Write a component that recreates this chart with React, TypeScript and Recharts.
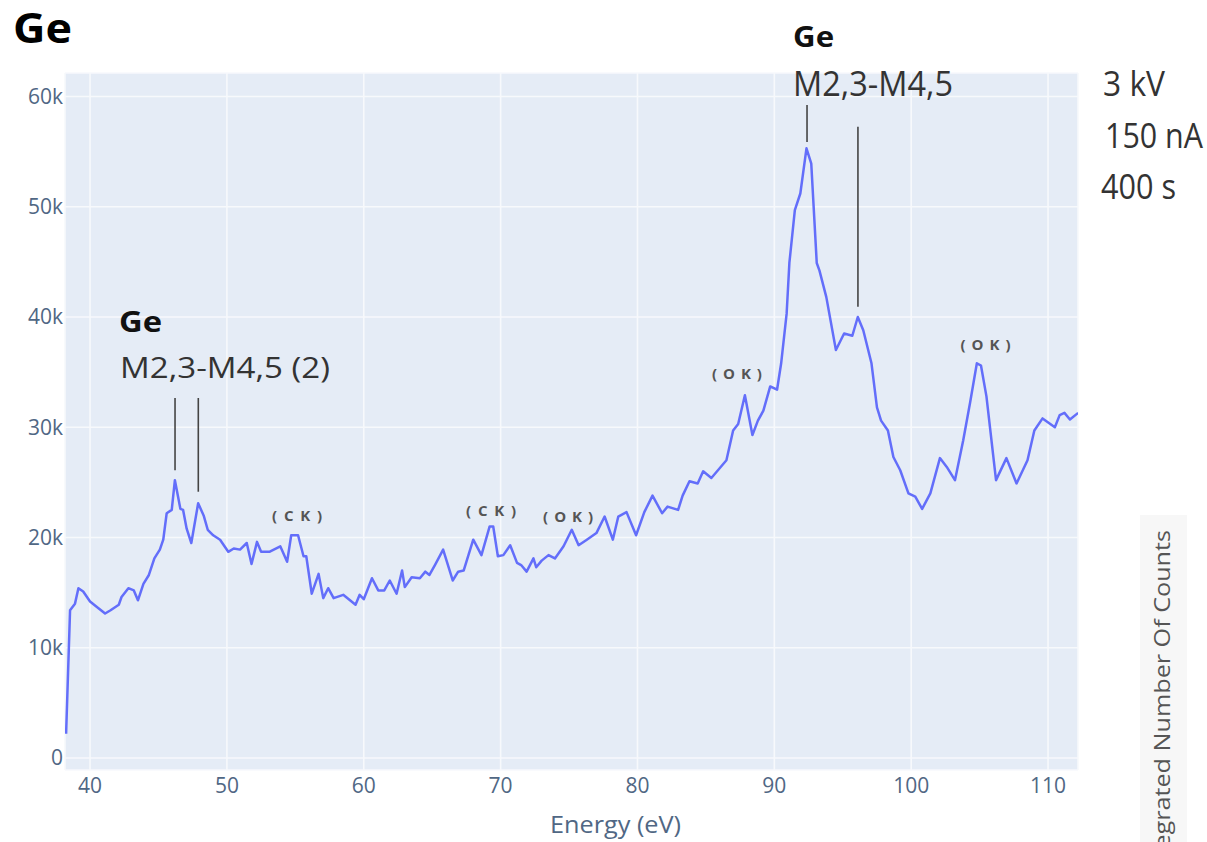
import { LineChart, Line, XAxis, YAxis, CartesianGrid, ReferenceLine, ReferenceDot } from "recharts";

// Energy (eV) and integrated counts
const ENERGY = [
  38.25, 38.54, 38.9, 39.15, 39.5, 40.0, 40.5, 41.1, 41.5, 42.1, 42.3, 42.8, 43.2, 43.5, 43.9,
  44.3, 44.7, 45.1, 45.35, 45.6, 45.97, 46.2, 46.6, 46.8, 47.06, 47.4, 47.9, 48.3, 48.6, 49.0,
  49.5, 50.1, 50.5, 50.96, 51.45, 51.8, 52.2, 52.5, 53.1, 53.9, 54.4, 54.7, 55.2, 55.6, 55.8,
  56.2, 56.7, 57.04, 57.4, 57.8, 58.5, 59.4, 59.7, 60.0, 60.6, 61.06, 61.5, 61.9, 62.4, 62.8,
  63.0, 63.5, 64.1, 64.5, 64.8, 65.2, 65.8, 66.5, 66.9, 67.3, 68.0, 68.6, 69.2, 69.46, 69.8,
  70.2, 70.7, 71.2, 71.5, 71.9, 72.4, 72.6, 73.0, 73.5, 73.97, 74.6, 75.2, 75.7, 76.3, 77.0,
  77.6, 78.2, 78.6, 79.2, 79.9, 80.5, 81.1, 81.8, 82.2, 82.97, 83.3, 83.8, 84.4, 84.8, 85.4,
  86.5, 86.99, 87.36, 87.85, 88.4, 88.8, 89.2, 89.7, 90.2, 90.5, 90.9, 91.1, 91.5, 91.9, 92.35,
  92.7, 93.1, 93.3, 93.8, 94.5, 95.1, 95.7, 96.1, 96.5, 97.1, 97.5, 97.8, 98.3, 98.7, 99.2,
  99.8, 100.3, 100.8, 101.4, 102.1, 102.6, 103.2, 103.8, 104.3, 104.8, 105.1, 105.5, 106.2, 106.96, 107.7,
  108.5, 109.0, 109.6, 110.5, 110.85, 111.2, 111.6, 112.2,
];

const COUNTS = [
  2200, 13400, 14000, 15400, 15100, 14200, 13700, 13100, 13400, 13900, 14600, 15400, 15200, 14300, 15800,
  16600, 18100, 18900, 19800, 22200, 22500, 25200, 22600, 22500, 20800, 19500, 23100, 22000, 20700, 20200,
  19800, 18700, 19000, 18900, 19500, 17600, 19600, 18700, 18700, 19200, 17800, 20200, 20200, 18300, 18300,
  14900, 16700, 14500, 15400, 14500, 14800, 13900, 14800, 14400, 16300, 15200, 15200, 16100, 14900, 17000,
  15500, 16400, 16300, 16900, 16600, 17500, 18900, 16100, 16900, 17000, 19800, 18400, 21000, 21000, 18300,
  18400, 19300, 17700, 17500, 16900, 18100, 17300, 17900, 18400, 18100, 19200, 20700, 19300, 19800, 20400,
  21900, 19800, 21900, 22300, 20200, 22300, 23800, 22200, 22800, 22500, 23800, 25100, 24900, 26000, 25400,
  27000, 29700, 30300, 32900, 29300, 30600, 31500, 33700, 33400, 35800, 40300, 44900, 49700, 51200, 55300,
  53900, 44900, 44200, 41800, 37000, 38500, 38300, 40000, 38800, 35800, 31800, 30600, 29700, 27300, 26100,
  24000, 23700, 22600, 24000, 27200, 26400, 25200, 28800, 32200, 35800, 35600, 32800, 25200, 27200, 24900,
  27000, 29700, 30800, 30000, 31100, 31300, 30700, 31300,
];

const X_TICKS = [40, 50, 60, 70, 80, 90, 100, 110];
const Y_TICKS = [0, 10000, 20000, 30000, 40000, 50000, 60000];

// peak marker lines: energy, top and bottom count
const MARKER_E = [46.21, 47.91, 92.39, 96.11];
const MARKER_TOP = [32650, 32650, 59230, 57260];
const MARKER_BOTTOM = [26100, 24150, 55870, 40930];

// contamination tags
const TAG_TEXT = ["(CK)", "(CK)", "(OK)", "(OK)", "(OK)"];
const TAG_E = [55.13, 69.3, 74.93, 87.27, 105.43];
const TAG_Y = [21500, 21950, 21400, 34380, 37000];

const data = ENERGY.map((e, i) => ({ e, counts: COUNTS[i] }));

const fmtK = (v: number) => (v === 0 ? "0" : `${v / 1000}k`);
const tickStyle = { fill: "#506784", fontSize: 21, fontFamily: "'Open Sans', sans-serif" };

const textShape =
  (text: string, opts: { size: number; bold?: boolean; fill: string; anchor?: string; len?: number; spacing?: boolean }) =>
  (p: any) =>
    (
      <text
        x={p.cx}
        y={p.cy}
        fontSize={opts.size}
        fontWeight={opts.bold ? 700 : 400}
        fill={opts.fill}
        textAnchor={opts.anchor ?? "start"}
        fontFamily="'Open Sans', sans-serif"
        textLength={opts.len}
        lengthAdjust={opts.spacing ? "spacing" : "spacingAndGlyphs"}
      >
        {text}
      </text>
    );

export default function App() {
  return (
    <div style={{ position: "absolute", left: 0, top: 0, width: 1207, height: 842, background: "#fff" }}>
      <LineChart width={1207} height={842} data={data} margin={{ top: 73, right: 129, bottom: 32, left: 5 }}>
        <CartesianGrid fill="#E5ECF6" stroke="#f7f9fc" strokeWidth={1.6} />
        <XAxis
          dataKey="e"
          type="number"
          domain={[38.17, 112.19]}
          ticks={X_TICKS}
          allowDataOverflow
          axisLine={false}
          tickLine={false}
          tickSize={0}
          tickMargin={8}
          height={40}
          tick={tickStyle}
        />
        <YAxis
          type="number"
          domain={[-1090, 62130]}
          ticks={Y_TICKS}
          allowDataOverflow
          axisLine={false}
          tickLine={false}
          tickSize={0}
          tickMargin={2}
          width={60}
          tickFormatter={fmtK}
          tick={tickStyle}
        />
        <Line
          type="linear"
          dataKey="counts"
          stroke="#636efa"
          strokeWidth={2.5}
          strokeLinejoin="round"
          dot={false}
          isAnimationActive={false}
        />
        {MARKER_E.map((e, i) => (
          <ReferenceLine
            key={`m-${i}`}
            segment={[
              { x: e, y: MARKER_TOP[i] },
              { x: e, y: MARKER_BOTTOM[i] },
            ]}
            stroke="#444"
            strokeWidth={1.6}
            ifOverflow="visible"
          />
        ))}
        {TAG_TEXT.map((t, i) => (
          <ReferenceDot
            key={`t-${i}`}
            x={TAG_E[i]}
            y={TAG_Y[i]}
            r={0}
            ifOverflow="visible"
            shape={textShape(t, { size: 15, bold: true, fill: "#555", anchor: "middle", len: 50, spacing: true })}
          />
        ))}
        <ReferenceDot x={42.12} y={38640} r={0} ifOverflow="visible"
          shape={textShape("Ge", { size: 28, bold: true, fill: "#111", len: 43 })} />
        <ReferenceDot x={42.19} y={34460} r={0} ifOverflow="visible"
          shape={textShape("M2,3-M4,5 (2)", { size: 30, fill: "#333", len: 210 })} />
        <ReferenceDot x={91.37} y={64490} r={0} ifOverflow="visible"
          shape={textShape("Ge", { size: 28, bold: true, fill: "#111", len: 41 })} />
        <ReferenceDot x={91.37} y={60040} r={0} ifOverflow="visible"
          shape={textShape("M2,3-M4,5", { size: 34, fill: "#333", len: 160 })} />
      </LineChart>
      <svg
        width={1207}
        height={842}
        style={{ position: "absolute", left: 0, top: 0, pointerEvents: "none" }}
        fontFamily="'Open Sans', sans-serif"
      >
        <text x={13} y={43} fontSize={42} fontWeight={700} fill="#000" textLength={59} lengthAdjust="spacingAndGlyphs">
          Ge
        </text>
        <text x={1103} y={96} fontSize={35} fill="#333" textLength={62} lengthAdjust="spacingAndGlyphs">3 kV</text>
        <text x={1105} y={148} fontSize={35} fill="#333" textLength={98} lengthAdjust="spacingAndGlyphs">150 nA</text>
        <text x={1101} y={199} fontSize={35} fill="#333" textLength={75} lengthAdjust="spacingAndGlyphs">400 s</text>
        <text x={615.5} y={833} fontSize={23} fill="#506784" textAnchor="middle" textLength={131} lengthAdjust="spacingAndGlyphs">
          Energy (eV)
        </text>
        <rect x={1140} y={515} width={47} height={327} fill="#f7f7f7" />
        <text
          x={1170}
          y={530}
          transform="rotate(-90 1170 530)"
          fontSize={22}
          fill="#555"
          textAnchor="end"
          textLength={350}
          lengthAdjust="spacingAndGlyphs"
        >
          Integrated Number Of Counts
        </text>
      </svg>
    </div>
  );
}
